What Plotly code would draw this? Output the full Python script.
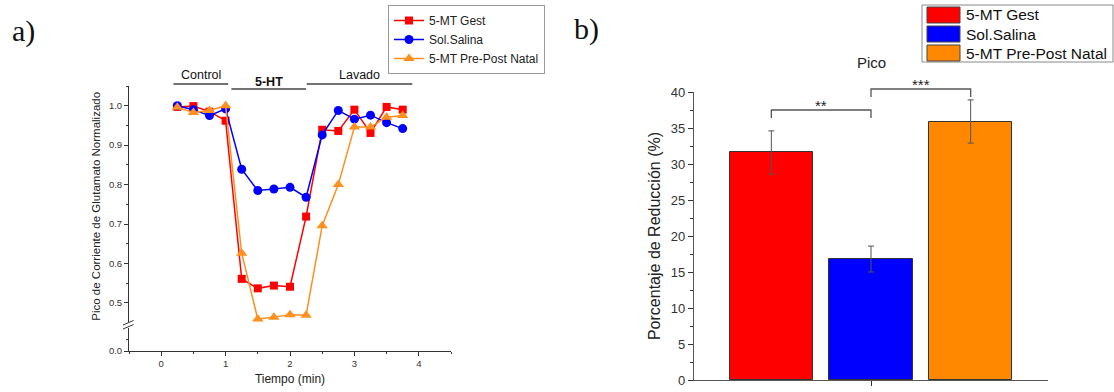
import plotly.graph_objects as go

# ---------------- data ----------------
time_min = [0.25, 0.5, 0.75, 1.0, 1.25, 1.5, 1.75, 2.0, 2.25, 2.5, 2.75, 3.0, 3.25, 3.5, 3.75]
gest = [0.997, 0.999, 0.985, 0.962, 0.561, 0.537, 0.544, 0.541, 0.719, 0.939, 0.936, 0.990, 0.931, 0.997, 0.990]
salina = [1.000, 0.990, 0.975, 0.992, 0.839, 0.785, 0.789, 0.793, 0.768, 0.926, 0.988, 0.966, 0.976, 0.957, 0.942]
prepost = [0.996, 0.983, 0.988, 1.000, 0.626, 0.459, 0.464, 0.470, 0.469, 0.696, 0.800, 0.946, 0.946, 0.971, 0.975]

series_names = ["5-MT Gest", "Sol.Salina", "5-MT Pre-Post Natal"]
bar_pos = [1, 2, 3]
reduction = [31.6, 16.8, 35.9]
reduction_err = [3.0, 1.8, 3.0]

phase_labels = ["Control", "5-HT", "Lavado"]
phase_start = [0.19, 1.09, 2.26]
phase_end = [1.04, 2.25, 3.90]

W, H = 1114, 392
FONT = "Liberation Sans, Arial, sans-serif"
RED, BLUE, ORANGE, ORANGE_L = "#FF0000", "#0000FF", "#FF8800", "#FF9020"
AX = "#333333"


def px(x):
    return x / W


def py(y):
    return 1 - y / H


fig = go.Figure()

# ---------------- left: time course ----------------
line_specs = [
    (gest, RED, "square", 8),
    (salina, BLUE, "circle", 9),
    (prepost, ORANGE_L, "triangle-up", 10),
]
for name, (vals, col, sym, size) in zip(series_names, line_specs):
    fig.add_trace(go.Scatter(
        x=time_min, y=vals, name=name, mode="lines+markers",
        line=dict(color=col, width=1.5),
        marker=dict(color=col, symbol=sym, size=size, line=dict(width=0)),
        xaxis="x", yaxis="y", legend="legend", cliponaxis=False,
    ))

# empty trace so the lower (broken) y-axis segment gets drawn
fig.add_trace(go.Scatter(x=[], y=[], xaxis="x", yaxis="y3", showlegend=False,
                         hoverinfo="skip"))

# ---------------- right: bar chart ----------------
fig.add_trace(go.Bar(
    x=bar_pos, y=reduction, width=0.833,
    marker=dict(color=[RED, BLUE, ORANGE], line=dict(color=AX, width=1)),
    error_y=dict(type="data", array=reduction_err, color="#555555", thickness=1, width=3),
    xaxis="x2", yaxis="y2", showlegend=False,
))

tickfont_small = dict(family=FONT, size=9.5, color="#333")

fig.update_layout(
    width=W, height=H, margin=dict(l=0, r=0, t=0, b=0, autoexpand=False),
    paper_bgcolor="white", plot_bgcolor="white",
    font=dict(family=FONT, color="#222"),
    xaxis=dict(
        domain=[px(129), px(451)], range=[-0.5, 4.5], anchor="y3", automargin=False,
        tickmode="array", tickvals=[0, 1, 2, 3, 4], ticks="outside", ticklen=4,
        tickcolor=AX, showline=True, linecolor=AX, linewidth=1, showgrid=False,
        zeroline=False, tickfont=tickfont_small,
        minor=dict(dtick=0.5, ticks="outside", ticklen=2, tickcolor=AX),
        title=dict(text="Tiempo (min)", font=dict(family=FONT, size=12), standoff=6),
    ),
    yaxis=dict(
        domain=[py(326.6), py(86)], range=[0.44, 1.05], anchor="x", automargin=False,
        tickmode="array", tickvals=[0.5, 0.6, 0.7, 0.8, 0.9, 1.0],
        ticktext=["0.5", "0.6", "0.7", "0.8", "0.9", "1.0"],
        ticks="outside", ticklen=4, tickcolor=AX, showline=True, linecolor=AX,
        linewidth=1, showgrid=False, zeroline=False, tickfont=tickfont_small,
        minor=dict(tickvals=[0.45, 0.55, 0.65, 0.75, 0.85, 0.95, 1.05], ticks="outside",
                   ticklen=2, tickcolor=AX),
        title=dict(text="Pico de Corriente de Glutamato Normalizado",
                   font=dict(family=FONT, size=11.5), standoff=5),
    ),
    yaxis3=dict(
        domain=[py(351), py(327)], range=[0, 0.06], anchor="x", automargin=False,
        tickmode="array", tickvals=[0], ticktext=["0.0"], ticks="outside", ticklen=4,
        tickcolor=AX, showline=True, linecolor=AX, linewidth=1, showgrid=False,
        zeroline=False, tickfont=tickfont_small,
        minor=dict(tickvals=[0.03], ticks="outside", ticklen=2, tickcolor=AX),
    ),
    xaxis2=dict(
        domain=[px(694), px(1048)], range=[0.224, 3.776], anchor="y2", automargin=False,
        tickmode="array", tickvals=[2], ticktext=[""], ticks="outside", ticklen=5,
        tickcolor=AX, showline=True, linecolor="#555", linewidth=1.2, showgrid=False,
        zeroline=False,
    ),
    yaxis2=dict(
        domain=[py(380), py(92)], range=[0, 40], anchor="x2", automargin=False,
        tickmode="linear", tick0=0, dtick=5, ticks="outside", ticklen=5,
        tickcolor=AX, showline=True, linecolor="#555", linewidth=1.2, showgrid=False,
        zeroline=False, tickfont=dict(family=FONT, size=13, color="#333"),
        minor=dict(dtick=2.5, ticks="outside", ticklen=3, tickcolor=AX),
        title=dict(text="Porcentaje de Reducción (%)", font=dict(family=FONT, size=16),
                   standoff=6),
    ),
    legend=dict(
        x=px(388), y=py(5), xanchor="left", yanchor="top",
        bgcolor="white", bordercolor="#999", borderwidth=1,
        font=dict(family=FONT, size=12, color="#222"),
        itemwidth=30, tracegroupgap=0,
    ),
    bargap=0,
)

shapes = []
annotations = []

# phase bars over time course
phase_y_text = [75, 82, 75]
phase_y_line = [84, 89, 84]
for lab, x0, x1, yt, yl in zip(phase_labels, phase_start, phase_end, phase_y_text, phase_y_line):
    shapes.append(dict(type="line", xref="x", yref="paper", x0=x0, x1=x1,
                       y0=py(yl), y1=py(yl), line=dict(color="#444", width=1.3)))
    annotations.append(dict(
        text=("<b>%s</b>" % lab) if lab == "5-HT" else lab,
        xref="x", yref="paper", x=(x0 + x1) / 2, y=py(yt), showarrow=False,
        font=dict(family=FONT, size=12.5, color="#111"), xanchor="center", yanchor="middle"))

# axis break on left y-axis
shapes.append(dict(type="rect", xref="paper", yref="paper", x0=px(126), x1=px(132),
                   y0=py(328), y1=py(322), fillcolor="white", line=dict(width=0)))
for yy in (325, 329):
    shapes.append(dict(type="line", xref="paper", yref="paper",
                       x0=px(123), y0=py(yy), x1=px(133.5), y1=py(yy - 4.5),
                       line=dict(color=AX, width=1)))

# significance brackets (bar chart)
brackets = [(1, 2, "**", 110, 118), (2, 3, "***", 89, 97)]
for x0, x1, txt, ytop, yleg in brackets:
    ft = (380 - ytop) / 288
    fl = (380 - yleg) / 288
    shapes.append(dict(type="path", xref="x2", yref="y2 domain",
                       path="M %s,%s L %s,%s L %s,%s L %s,%s" % (x0, fl, x0, ft, x1, ft, x1, fl),
                       line=dict(color="#555", width=1.3)))
    annotations.append(dict(text=txt, xref="x2", yref="y2 domain", x=(x0 + x1) / 2,
                            y=(380 - (ytop - 5)) / 288, yanchor="middle", showarrow=False,
                            font=dict(family=FONT, size=15, color="#222")))

# bar chart title
annotations.append(dict(text="Pico", xref="paper", yref="paper", x=px(871), y=py(62),
                        xanchor="center", yanchor="middle", showarrow=False,
                        font=dict(family=FONT, size=15, color="#222")))

# bar legend (box with swatches)
shapes.append(dict(type="rect", xref="paper", yref="paper", x0=px(922), x1=px(1113),
                   y0=py(62), y1=py(5), line=dict(color="#888", width=1), fillcolor="white"))
for i, (name, col) in enumerate(zip(series_names, [RED, BLUE, ORANGE])):
    top = 7 + 19 * i
    shapes.append(dict(type="rect", xref="paper", yref="paper", x0=px(927), x1=px(960),
                       y0=py(top + 16), y1=py(top), fillcolor=col,
                       line=dict(color="#444", width=1)))
    annotations.append(dict(text=name, xref="paper", yref="paper", x=px(964),
                            y=py(top + 8), xanchor="left", yanchor="middle", showarrow=False,
                            font=dict(family=FONT, size=15.5, color="#111")))

# panel letters
annotations.append(dict(text="a)", xref="paper", yref="paper", x=px(10), y=py(31),
                        xanchor="left", yanchor="middle", showarrow=False,
                        font=dict(family="Liberation Serif, Times New Roman, serif", size=30,
                                  color="#111")))
annotations.append(dict(text="b)", xref="paper", yref="paper", x=px(572), y=py(29),
                        xanchor="left", yanchor="middle", showarrow=False,
                        font=dict(family="Liberation Serif, Times New Roman, serif", size=30,
                                  color="#111")))

fig.update_layout(shapes=shapes, annotations=annotations)
fig.write_html("out.html")
